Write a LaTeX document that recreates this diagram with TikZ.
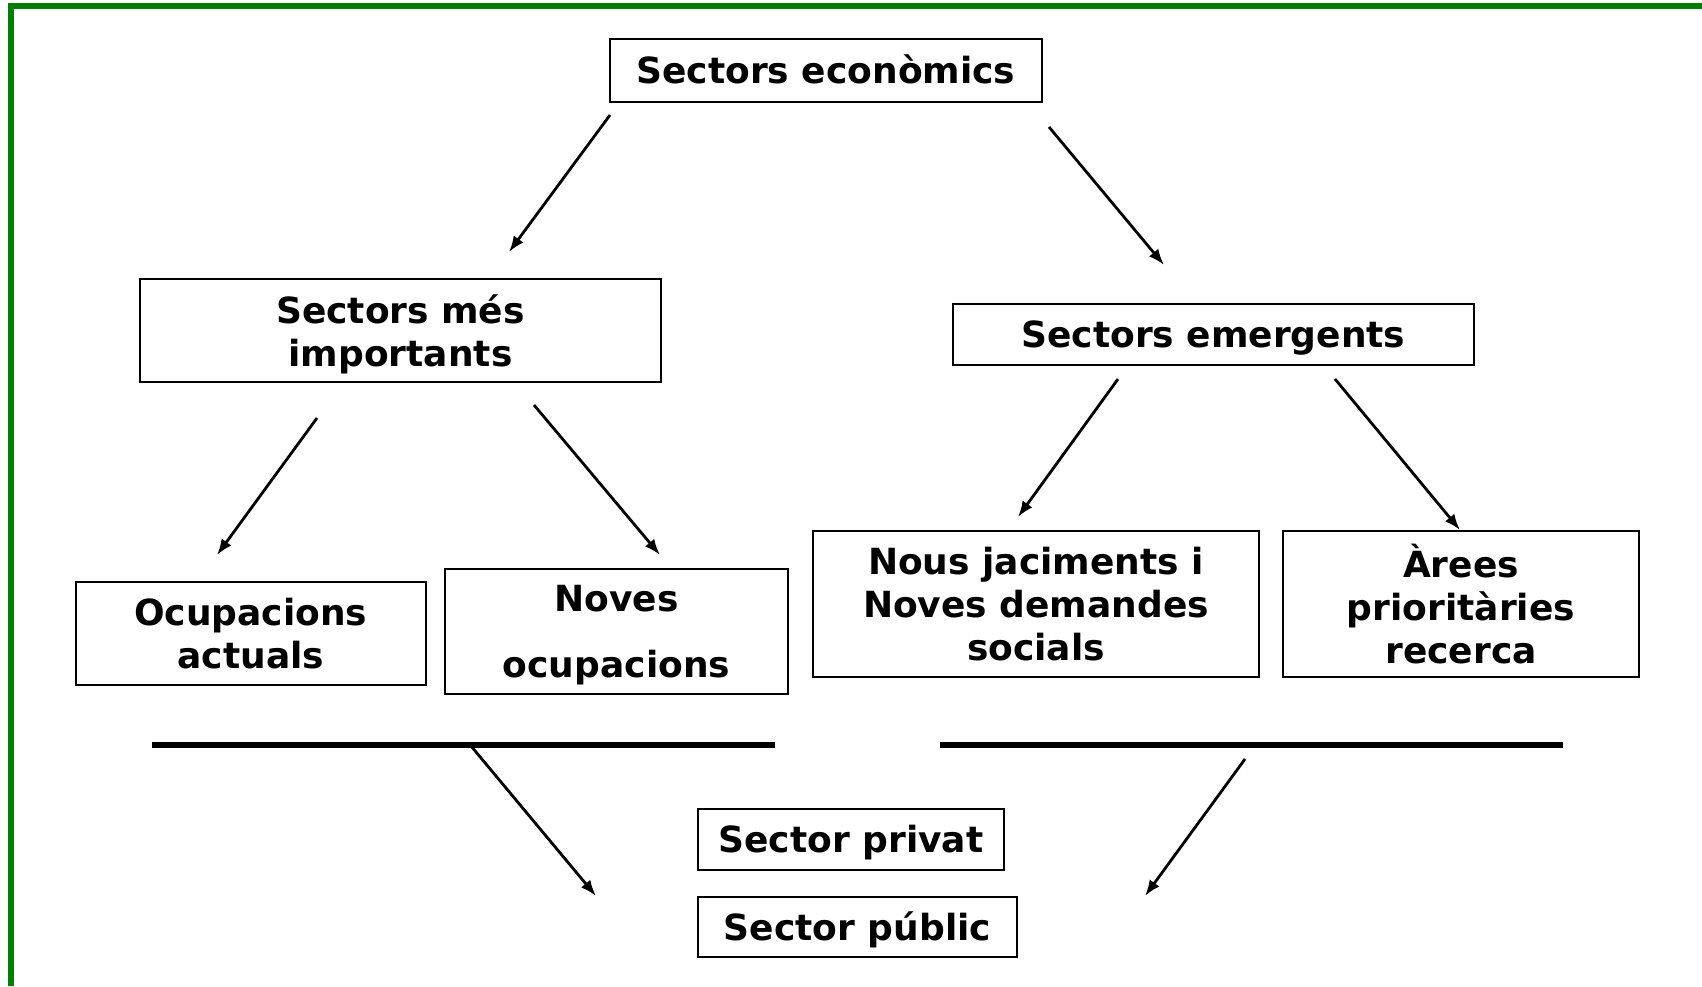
\documentclass[tikz,border=0pt]{standalone}
\usepackage{fontspec}
\setmainfont{DejaVu Sans}
\usepackage{tikz}
\usetikzlibrary{calc, arrows.meta, positioning}
\definecolor{frame}{RGB}{0,128,0}
\tikzset{
  box/.style={draw=black, line width=1pt, inner sep=0pt, align=center,
    font=\fontsize{18}{21.5}\selectfont\bfseries},
  oneline/.style={text height=15pt, text depth=2pt},
  arr/.style={line width=1.4pt, -{Latex[length=8pt,width=6pt]}},
  bar/.style={line width=2.6pt}
}
\begin{document}
\begin{tikzpicture}[x=0.5pt, y=-0.5pt]
                  \useasboundingbox (0,0) rectangle (1702,986);
                  % green frame
                  \draw[frame, line width=3pt] (11,986) -- (11,6) -- (1702,6);
                  % boxes
                  \node[box, oneline, minimum width=216pt, minimum height=31.5pt] (econ) at (826,70.5) {Sectors econòmics};
                  \node[box, text depth=0pt, minimum width=260.5pt, minimum height=51.5pt] (imp) at (400.5,330.5) {Sectors més\\importants};
                  \node[box, oneline, minimum width=260.5pt, minimum height=30.5pt] (emer) at (1213.5,334.5) {Sectors emergents};
                  \node[box, minimum width=174.75pt, minimum height=51.5pt] (act) at (250.8,633.5) {Ocupacions\\actuals};
                  \node[box, text depth=0pt, minimum width=171.5pt, minimum height=62.5pt] (noves) at (616.5,631.5) {Noves\\[11.5pt]ocupacions};
                  \node[box, minimum width=223pt, minimum height=73pt] (jac) at (1036,604) {Nous jaciments i\\Noves demandes\\socials};
                  \node[box, minimum width=178pt, minimum height=73pt] (arees) at (1461,604) {Àrees\\prioritàries\\recerca};
                  \node[box, oneline, minimum width=153pt, minimum height=30.5pt] (priv) at (851,839.5) {Sector privat};
                  \node[box, oneline, minimum width=159.5pt, minimum height=30pt] (pub) at (857.5,927) {Sector públic};
                  % bars
                  \coordinate (L1) at (152,745);
                  \coordinate (L2) at (775,745);
                  \coordinate (R1) at (940,745);
                  \coordinate (R2) at (1563,745);
                  \draw[bar] (L1)--(L2);
                  \draw[bar] (R1)--(R2);
                  % arrow ends
                  \coordinate (a1) at (610,115);  \coordinate (b1) at (509,252);
                  \coordinate (a2) at (1049,127); \coordinate (b2) at (1164,265);
                  \coordinate (a3) at (317,418);  \coordinate (b3) at (217,555);
                  \coordinate (a4) at (534,405);  \coordinate (b4) at (660,555);
                  \coordinate (a5) at (1118,379); \coordinate (b5) at (1018,517);
                  \coordinate (a6) at (1335,379); \coordinate (b6) at (1460,530);
                  \coordinate (a7) at (471,746);  \coordinate (b7) at (596,896);
                  \coordinate (a8) at (1245,759); \coordinate (b8) at (1145,896);
                  \foreach \i in {1,...,8}
                    \draw[arr] (a\i)--(b\i);
               \end{tikzpicture}
\end{document}
